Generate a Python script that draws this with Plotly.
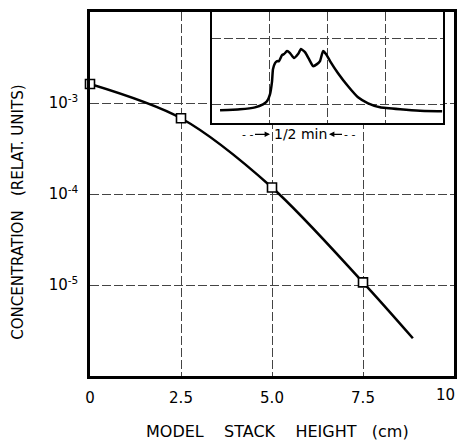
import plotly.graph_objects as go

# ---- main chart data ----
stack_height_cm = [0.0, 2.5, 5.0, 7.5]
concentration = [1.62e-3, 6.8e-4, 1.18e-4, 1.07e-5]
curve_x = [0.0, 2.5, 5.0, 7.5, 8.87]
curve_y = [1.62e-3, 6.8e-4, 1.18e-4, 1.07e-5, 2.6e-6]

x_tickvals = [0, 2.5, 5.0, 7.5]
x_ticktext = ["0", "2.5", "5.0", "7.5"]
x_last_label = "10"
y_tickvals = [1e-3, 1e-4, 1e-5]
y_ticktext = ["10<sup>-3</sup>", "10<sup>-4</sup>", "10<sup>-5</sup>"]

# ---- inset signal (time in min, relative signal) ----
inset_t = [0.070, 0.243, 0.373, 0.442, 0.476, 0.502, 0.520, 0.528, 0.546, 0.563,
           0.580, 0.606, 0.624, 0.650, 0.676, 0.710, 0.745, 0.771, 0.805, 0.840,
           0.875, 0.909, 0.935, 0.961, 0.987, 1.022, 1.091, 1.178, 1.264, 1.351,
           1.455, 1.628, 1.801, 1.992]
inset_s = [0.117, 0.126, 0.144, 0.171, 0.198, 0.261, 0.378, 0.486, 0.541, 0.559,
           0.559, 0.613, 0.622, 0.649, 0.631, 0.586, 0.622, 0.667, 0.640, 0.577,
           0.514, 0.532, 0.559, 0.649, 0.622, 0.559, 0.450, 0.333, 0.234, 0.180,
           0.144, 0.126, 0.113, 0.108]

FONT = "DejaVu Sans, Verdana, sans-serif"

fig = go.Figure()

fig.add_trace(go.Scatter(
    x=curve_x, y=curve_y, mode="lines",
    line=dict(color="black", width=2.5, shape="spline", smoothing=0.9),
    hoverinfo="skip", showlegend=False))
fig.add_trace(go.Scatter(
    x=stack_height_cm, y=concentration, mode="markers",
    marker=dict(symbol="square", size=9, color="white",
                line=dict(color="black", width=1.6)),
    showlegend=False, cliponaxis=False))

fig.add_trace(go.Scatter(
    x=inset_t, y=inset_s, mode="lines", xaxis="x2", yaxis="y2",
    line=dict(color="black", width=2.5, shape="spline", smoothing=0.4),
    showlegend=False))

grid_dash = "9px,3px"
# page body has an 8px default margin, so the figure is 8px smaller
fig.update_layout(
    width=457, height=438,
    margin=dict(l=82, r=11, t=2, b=70),
    paper_bgcolor="white", plot_bgcolor="white",
    font=dict(family=FONT, size=15, color="black"),
    xaxis=dict(range=[0, 10], tickvals=x_tickvals, ticktext=x_ticktext,
               showline=True, mirror=True, linewidth=2.5, linecolor="black",
               showgrid=True, gridcolor="#444", gridwidth=1, griddash=grid_dash,
               ticks="", ticklabelstandoff=6, zeroline=False,
               automargin=False, tickfont=dict(size=15)),
    yaxis=dict(type="log", range=[-6, -2], tickvals=y_tickvals, ticktext=y_ticktext,
               showline=True, mirror=True, linewidth=2.5, linecolor="black",
               showgrid=True, gridcolor="#444", gridwidth=1, griddash=grid_dash,
               ticks="", ticklabelstandoff=6, zeroline=False, automargin=False,
               tickfont=dict(size=15)),
    xaxis2=dict(domain=[0.335, 0.970], anchor="y2", range=[0, 2],
                tickvals=[0.5, 1.0, 1.5], showticklabels=False, ticks="",
                showline=True, mirror=True, linewidth=1.5, linecolor="black",
                showgrid=True, gridcolor="#444", gridwidth=1, griddash=grid_dash,
                zeroline=False),
    yaxis2=dict(domain=[0.694, 1.0], anchor="x2", range=[0, 1],
                tickvals=[0.17, 0.76], showticklabels=False, ticks="",
                showline=True, mirror=True, linewidth=1.5, linecolor="black",
                showgrid=True, gridcolor="#444", gridwidth=1, griddash=grid_dash,
                zeroline=False),
)

sp = "\u00a0"
annotations = [
    dict(text=x_last_label, xref="paper", yref="paper", x=0.978, y=-0.052,
         showarrow=False, font=dict(size=15), xanchor="center", yanchor="middle"),
    dict(text="CONCENTRATION" + sp * 3 + "(RELAT." + sp + "UNITS)", xref="paper", yref="paper",
         x=-0.198, y=0.451, textangle=-90, showarrow=False,
         font=dict(size=15), xanchor="center", yanchor="middle"),
    dict(text="MODEL" + sp * 4 + "STACK" + sp * 4 + "HEIGHT" + sp * 3 + "(cm)",
         xref="paper", yref="paper",
         x=0.516, y=-0.153, showarrow=False, font=dict(size=16),
         xanchor="center", yanchor="middle"),
    dict(text="1/2" + sp + "min", xref="paper", yref="paper", x=0.577, y=0.664,
         showarrow=False, font=dict(size=14), xanchor="center", yanchor="middle"),
    dict(text="-" + sp + "-", xref="paper", yref="paper", x=0.4945, y=0.664,
         showarrow=True, ax=-22, ay=0, arrowhead=2, arrowsize=0.9,
         arrowwidth=1.2, arrowcolor="black", font=dict(size=11)),
    dict(text="-" + sp + "-", xref="paper", yref="paper", x=0.6566, y=0.664,
         showarrow=True, ax=20, ay=0, arrowhead=2, arrowsize=0.9,
         arrowwidth=1.2, arrowcolor="black", font=dict(size=11)),
]
fig.update_layout(annotations=annotations)

fig.write_html("out.html")
